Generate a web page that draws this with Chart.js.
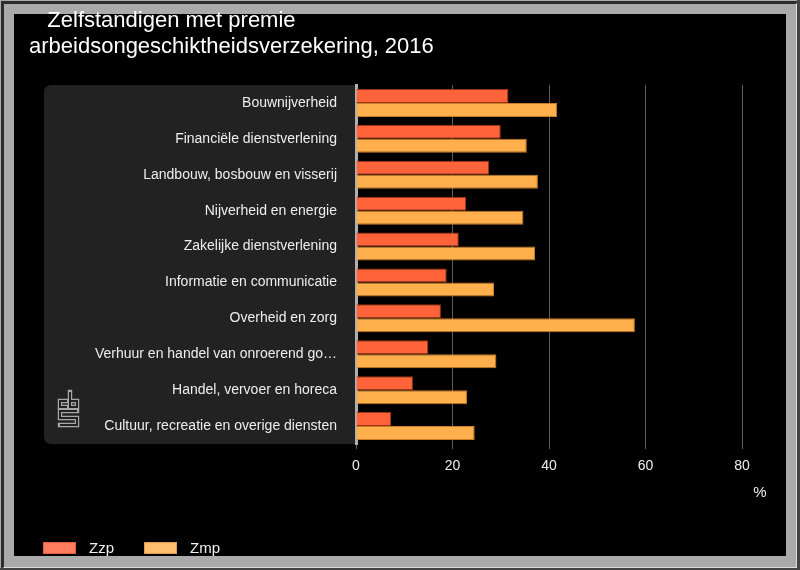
<!DOCTYPE html>
<html>
<head>
<meta charset="utf-8">
<title>Zelfstandigen met premie arbeidsongeschiktheidsverzekering, 2016</title>
<script src="https://cdn.jsdelivr.net/npm/chart.js@4"></script>
<style>
  html, body { margin: 0; padding: 0; background: #aaaaaa; }
  #outer { position: absolute; left: 0; top: 0; width: 800px; height: 570px; background: #aaaaaa; }
  #edge { position: absolute; left: 1px; top: 1px; width: 792px; height: 563px;
          border-top: 3px solid #2c2c2c; border-left: 3px solid #2c2c2c;
          border-right: 2px solid #dcdcdc; border-bottom: 2px solid #dcdcdc; }
  #rim { position: absolute; right: 0; top: 0; width: 3px; height: 570px; background: #444; }
  #rimb { position: absolute; left: 0; bottom: 0; width: 800px; height: 2px; background: #444; }
  #inner { position: absolute; left: 14px; top: 14px; width: 772px; height: 542px; background: #000; }
  #wrap { position: absolute; left: 0; top: 0; width: 800px; height: 570px; }
</style>
</head>
<body>
<div id="outer"></div>
<div id="edge"></div>
<div id="rim"></div>
<div id="rimb"></div>
<div id="inner"></div>
<div id="wrap"><canvas id="chart" width="800" height="570"></canvas></div>

<script>
// ─── data ───
const titleLines = ['   Zelfstandigen met premie', 'arbeidsongeschiktheidsverzekering, 2016'];

const categories = [
  'Bouwnijverheid',
  'Financiële dienstverlening',
  'Landbouw, bosbouw en visserij',
  'Nijverheid en energie',
  'Zakelijke dienstverlening',
  'Informatie en communicatie',
  'Overheid en zorg',
  'Verhuur en handel van onroerend go…',
  'Handel, vervoer en horeca',
  'Cultuur, recreatie en overige diensten',
];

const zzp = [31.6, 30.0, 27.6, 22.8, 21.3, 18.8, 17.6, 15.0, 11.8, 7.3];
const zmp = [41.7, 35.4, 37.7, 34.7, 37.1, 28.6, 57.8, 29.1, 23.0, 24.6];

const seriesNames = ['Zzp', 'Zmp'];
const xTicks = [0, 20, 40, 60, 80];
const unitLabel = '%';

const FONT = "'Liberation Sans', Arial, sans-serif";

// ─── panel behind the category labels + cbs logo ───
const panelPlugin = {
  id: 'panel',
  beforeDraw(chart) {
    const { ctx, chartArea } = chart;
    const x0 = 44;
    ctx.save();
    ctx.fillStyle = '#222222';
    ctx.beginPath();
    ctx.roundRect(x0, chartArea.top, chartArea.left - x0, chartArea.bottom - chartArea.top, [7, 0, 0, 7]);
    ctx.fill();

    // logo: outlined strokes
    const paths = [
      [[67, 401], [60, 401], [60, 407], [67, 407]],
      [[70, 392], [70, 407], [77, 407], [77, 401], [70, 401]],
      [[77, 411], [60, 411], [60, 418], [77, 418], [77, 425], [60, 425]],
    ];
    const strokeAll = (w, col, cap) => {
      ctx.lineWidth = w;
      ctx.strokeStyle = col;
      ctx.lineCap = cap;
      ctx.lineJoin = 'miter';
      paths.forEach(p => {
        ctx.beginPath();
        p.forEach(([x, y], i) => (i ? ctx.lineTo(x, y) : ctx.moveTo(x, y)));
        ctx.stroke();
      });
    };
    strokeAll(4.4, '#a8a8a8', 'square');
    strokeAll(2, '#222222', 'butt');
    ctx.restore();
  },
};

// ─── unit label + legend ───
const extrasPlugin = {
  id: 'extras',
  afterDraw(chart) {
    const { ctx, scales: { x } } = chart;
    ctx.save();
    ctx.fillStyle = '#f0f0f0';
    ctx.font = `15px ${FONT}`;
    ctx.textAlign = 'center';
    ctx.textBaseline = 'alphabetic';
    ctx.fillText(unitLabel, x.right + 18, 497);

    const swatch = ['#ff7d5e', '#ffbf6e'];
    const edge = ['#e0603f', '#e09a4a'];
    chart.data.datasets.forEach((ds, i) => {
      const lx = 43 + i * 101;
      ctx.fillStyle = swatch[i];
      ctx.fillRect(lx, 542, 33, 12);
      ctx.strokeStyle = edge[i];
      ctx.lineWidth = 1;
      ctx.strokeRect(lx + 0.5, 542.5, 32, 11);
      ctx.fillStyle = '#f0f0f0';
      ctx.textAlign = 'left';
      ctx.fillText(ds.label, lx + 46, 553);
    });
    ctx.restore();
  },
};

Chart.defaults.font.family = FONT;
Chart.defaults.color = '#eeeeee';

new Chart(document.getElementById('chart'), {
  type: 'bar',
  data: {
    labels: categories,
    datasets: [
      {
        label: seriesNames[0],
        data: zzp,
        backgroundColor: '#ff633a',
        borderColor: '#9c3516',
        borderWidth: 1,
        categoryPercentage: 0.78,
        barPercentage: 1.0,
      },
      {
        label: seriesNames[1],
        data: zmp,
        backgroundColor: '#ffb04c',
        borderColor: '#c77c25',
        borderWidth: 1,
        categoryPercentage: 0.78,
        barPercentage: 1.0,
      },
    ],
  },
  options: {
    indexAxis: 'y',
    responsive: false,
    animation: false,
    layout: { padding: { left: 29, right: 58, top: 0, bottom: 96 } },
    plugins: {
      legend: { display: false },
      tooltip: { enabled: false },
      title: {
        display: true,
        text: titleLines,
        align: 'start',
        color: '#ffffff',
        font: { size: 22, weight: 'normal', lineHeight: 26 / 22 },
        padding: { top: 8, bottom: 25 },
      },
    },
    scales: {
      x: {
        min: xTicks[0],
        max: xTicks[xTicks.length - 1],
        afterBuildTicks: s => { s.ticks = xTicks.map(v => ({ value: v })); },
        afterFit: s => { s.height = 30; },
        grid: {
          color: c => (c.tick && c.tick.value === 0 ? 'rgba(0,0,0,0)' : '#5e5e5e'),
          tickColor: '#5e5e5e',
          tickLength: 5,
          lineWidth: 1,
        },
        border: { display: false },
        ticks: { color: '#eeeeee', font: { size: 14 }, padding: 9 },
      },
      y: {
        afterFit: s => { s.width = 327; },
        grid: { display: false, drawTicks: false },
        border: { color: '#b0b0b0', width: 3 },
        ticks: { color: '#eeeeee', font: { size: 14 }, padding: 19, autoSkip: false },
      },
    },
  },
  plugins: [panelPlugin, extrasPlugin],
});
</script>
</body>
</html>
